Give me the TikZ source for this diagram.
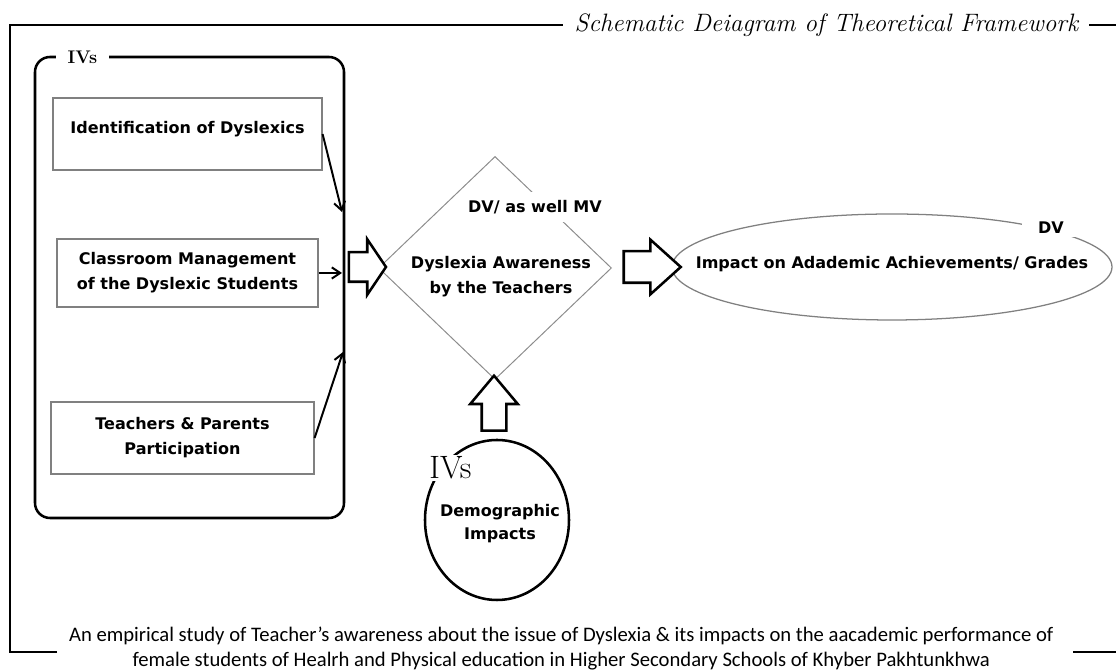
\documentclass[tikz,border=0pt]{standalone}
\usepackage{fontspec}
\newfontfamily\boxfont{DejaVu Sans}
\newfontfamily\notefont{Carlito}
\usetikzlibrary{arrows.meta,shapes.geometric,shapes.arrows}

\begin{document}
\begin{tikzpicture}[
  words/.style={font=\boxfont\bfseries\fontsize{11.4}{17.8}\selectfont},
  factor/.style={rectangle, draw=black!50, line width=0.85pt, inner sep=0pt,
                 align=center, words},
  flow/.style={line width=1.4pt, -{Straight Barb[length=6pt, width=8pt]}},
  fat/.style={single arrow, draw, fill=white, line width=1.8pt, inner xsep=0pt,
              single arrow head indent=0pt},
  tag/.style={fill=white, inner sep=2pt, words},
]
  \useasboundingbox (0,0) rectangle (27.9,16.775);

  % Frame, title and note
  \node[font=\rmfamily\itshape\fontsize{17.9}{21}\selectfont] (title) at (20.66,16.15)
    {Schematic Deiagram of Theoretical Framework};
  \draw[line width=2.1pt] (1.425,0.475) -| (0.25,16.15) -- (14.075,16.15);
  \draw[line width=2.1pt] (27.225,16.15) -- (27.9,16.15);
  \draw[line width=2.1pt] (26.825,0.475) -- (27.9,0.475);
  \node[font=\notefont\fontsize{14.7}{17.8}\selectfont, align=center] (study) at (14.03,0.56)
    {An empirical study of Teacher’s awareness about the issue of Dyslexia \& its impacts on the aacademic performance of\\
     female students of Healrh and Physical education in Higher Secondary Schools of Khyber Pakhtunkhwa};

  % IVs group
  \draw[line width=1.8pt, rounded corners=0.375cm] (0.875,3.825) rectangle (8.6,15.35);
  \node[tag, font=\rmfamily\bfseries\fontsize{13}{15}\selectfont, inner xsep=0.3cm] (ivs) at (2.06,15.35) {IVs};

  \node[factor, minimum width=6.725cm, minimum height=1.8cm, text height=0.3cm, text depth=0.3cm]
    (ident) at (4.6875,13.425) {Identification of Dyslexics};
  \node[factor, minimum width=6.525cm, minimum height=1.7cm] (class) at (4.6875,9.95)
    {Classroom Management\\of the Dyslexic Students};
  \node[factor, minimum width=6.575cm, minimum height=1.8cm] (teach) at (4.5625,5.825)
    {Teachers \& Parents\\Participation};

  \coordinate (hitA) at (8.55,11.475);
  \coordinate (hitB) at (8.55,9.95);
  \coordinate (hitC) at (8.575,7.975);
  \draw[flow] (ident.east) -- (hitA);
  \draw[flow] (class.east) -- (hitB);
  \draw[flow] (teach.east) -- (hitC);

  % Mediating variable
  \node[diamond, draw=black!45, line width=0.7pt, minimum width=5.825cm, minimum height=5.575cm,
        inner sep=0pt] (aware) at (12.375,10.075) {};
  \node[tag, inner ysep=0.2cm] (mv) at (13.375,11.6) {DV/ as well MV};
  \node[words, align=center] (awtext) at (12.525,9.85) {Dyslexia Awareness\\by the Teachers};

  % Dependent variable
  \node[ellipse, draw=black!50, line width=0.9pt, minimum width=11cm, minimum height=2.65cm,
        inner sep=0pt] (impact) at (22.3,10.1) {};
  \node[words] (impacttext) at (22.3,10.17) {Impact on Adademic Achievements/ Grades};
  \node[tag, inner xsep=0.4cm] (dv) at (26.275,11.075) {DV};

  % Demographic impacts
  \node[ellipse, draw, line width=1.8pt, minimum width=3.6cm, minimum height=4cm, inner sep=0pt]
    (demo) at (12.425,3.775) {};
  \node[align=center, font=\boxfont\bfseries\fontsize{11.4}{16.5}\selectfont] (demotext) at (12.5,3.69)
    {Demographic\\Impacts};
  \node[tag, font=\rmfamily\fontsize{23}{26}\selectfont, inner sep=1pt] (ivsb) at (11.2625,5.075) {IVs};

  % Hollow arrows
  \node[fat, minimum height=0.925cm, inner ysep=0.3375cm, single arrow head extend=0.325cm,
        single arrow tip angle=112] (pushA) at (9.0625,10.1) {};
  \node[fat, minimum height=1.425cm, inner ysep=0.3625cm, single arrow head extend=0.2875cm,
        single arrow tip angle=84] (pushB) at (16.0875,10.1) {};
  \node[fat, rotate=90, minimum height=1.375cm, inner ysep=0.275cm, single arrow head extend=0.2875cm,
        single arrow tip angle=80] (pushC) at (12.35,6.5125) {};
\end{tikzpicture}
\end{document}
